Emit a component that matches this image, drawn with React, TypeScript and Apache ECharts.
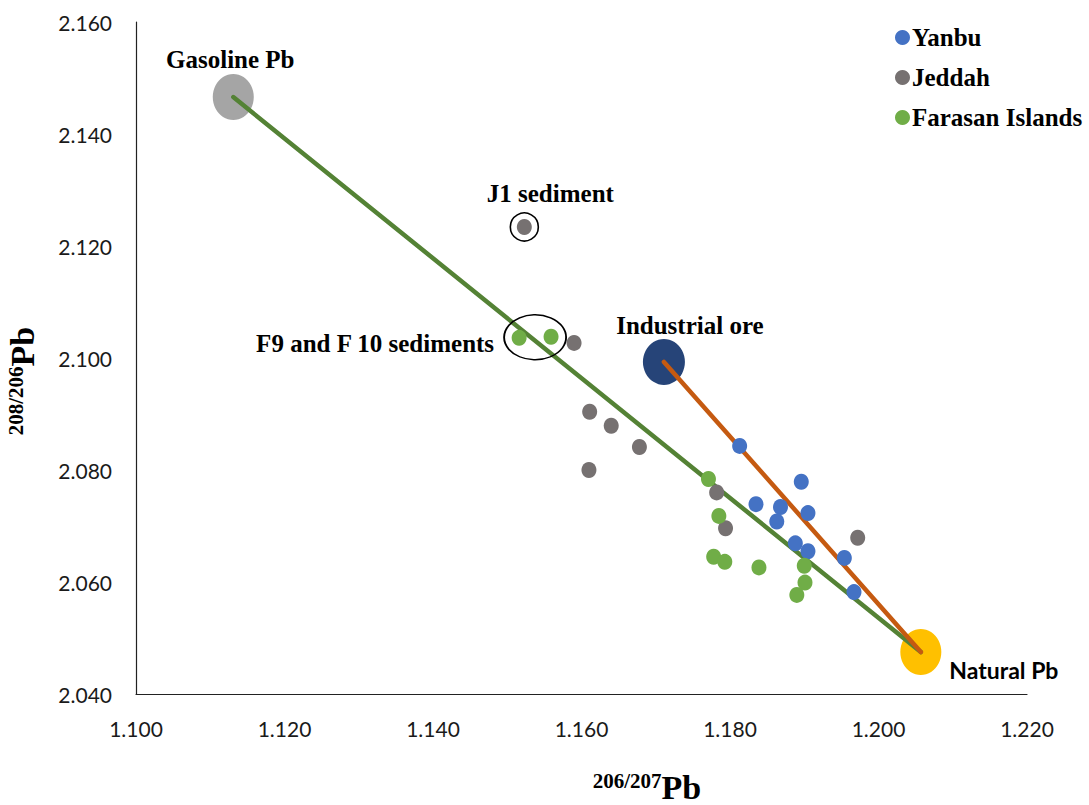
import React, { useEffect, useRef } from "react";
import * as echarts from "echarts";

const xTicks = { min: 1.1, max: 1.22, interval: 0.02 };
const yTicks = { min: 2.04, max: 2.16, interval: 0.02 };

const yanbu: number[][] = [
  [1.1813, 2.0843], [1.1896, 2.0779], [1.1835, 2.0739], [1.1868, 2.0734], [1.1905, 2.0723],
  [1.1863, 2.0708], [1.1888, 2.0669], [1.1905, 2.0655], [1.1954, 2.0643], [1.1967, 2.0582],
];
const jeddah: number[][] = [
  [1.1523, 2.1234], [1.159, 2.1027], [1.1611, 2.0904], [1.164, 2.0879], [1.1678, 2.0841],
  [1.161, 2.08], [1.1782, 2.076], [1.1794, 2.0696], [1.1972, 2.0679],
];
const farasan: number[][] = [
  [1.1516, 2.1036], [1.1559, 2.1038], [1.1771, 2.0784], [1.1785, 2.0718], [1.1778, 2.0645],
  [1.1793, 2.0636], [1.1839, 2.0626], [1.19, 2.0629], [1.1901, 2.0599], [1.189, 2.0577],
];

const gasoline = [1.1131, 2.1466];
const industrial = [1.1711, 2.0993];
const natural = [1.2057, 2.0475];

const serif = "'Liberation Serif', 'Times New Roman', serif";
const sans = "Lato, 'Noto Sans', sans-serif";

export default function App() {
  const ref = useRef<HTMLDivElement>(null);

  useEffect(() => {
    if (!ref.current) return;
    const chart = echarts.init(ref.current, null, { renderer: "svg" });

    const j1 = jeddah[0];
    const f9 = farasan[0];
    const f10 = farasan[1];
    const fCenter = [(f9[0] + f10[0]) / 2, (f9[1] + f10[1]) / 2];

    const annot = () => ({
      show: true,
      fontFamily: serif,
      fontWeight: "bold" as const,
      fontSize: 25,
      color: "#000",
      opacity: 1,
    });

    const titleRich = {
      sup: { fontFamily: serif, fontWeight: "bold", fontSize: 21, verticalAlign: "top", fill: "#000" },
      pb: { fontFamily: serif, fontWeight: "bold", fontSize: 34, fill: "#000" },
    };

    chart.setOption({
      animation: false,
      backgroundColor: "#fff",
      grid: { left: 136, right: 62, top: 22, bottom: 111, containLabel: false },
      xAxis: {
        type: "value",
        min: xTicks.min,
        max: xTicks.max,
        interval: xTicks.interval,
        axisLine: { show: true, onZero: false, lineStyle: { color: "#222", width: 1.2 } },
        axisTick: { show: false },
        splitLine: { show: false },
        axisLabel: {
          formatter: (v: number) => v.toFixed(3),
          fontFamily: sans,
          fontSize: 21,
          color: "#1a1a1a",
          margin: 24,
        },
      },
      yAxis: {
        type: "value",
        min: yTicks.min,
        max: yTicks.max,
        interval: yTicks.interval,
        axisLine: { show: true, onZero: false, lineStyle: { color: "#222", width: 1.2 } },
        axisTick: { show: false },
        splitLine: { show: false },
        axisLabel: {
          formatter: (v: number) => v.toFixed(3),
          fontFamily: sans,
          fontSize: 21,
          color: "#1a1a1a",
          margin: 24,
        },
      },
      legend: {
        data: ["Yanbu", "Jeddah", "Farasan Islands"],
        orient: "vertical",
        left: 890,
        top: 19,
        itemWidth: 15,
        itemHeight: 15,
        itemGap: 13,
        icon: "circle",
        textStyle: {
          fontFamily: serif,
          fontWeight: "bold",
          fontSize: 25,
          color: "#000",
          lineHeight: 27,
          padding: [0, 0, 0, -3],
        },
      },
      graphic: [
        {
          type: "text",
          x: 22,
          y: 381,
          rotation: Math.PI / 2,
          style: {
            text: "{sup|208/206}{pb|Pb}",
            align: "center",
            verticalAlign: "middle",
            fill: "#000",
            rich: titleRich,
          },
        },
        {
          type: "text",
          x: 647,
          y: 787,
          style: {
            text: "{sup|206/207}{pb|Pb}",
            align: "center",
            verticalAlign: "middle",
            fill: "#000",
            rich: titleRich,
          },
        },
      ],
      series: [
        {
          name: "Gasoline Pb",
          type: "scatter",
          z: 1,
          symbolSize: [41, 46],
          itemStyle: { color: "#A5A5A5", opacity: 1 },
          label: { ...annot(), position: "inside", offset: [-3, -38], formatter: "Gasoline Pb" },
          data: [gasoline],
        },
        {
          name: "Industrial ore",
          type: "scatter",
          z: 1,
          symbolSize: [42, 46],
          itemStyle: { color: "#264478", opacity: 1 },
          label: { ...annot(), position: "inside", offset: [26, -36], formatter: "Industrial ore" },
          data: [industrial],
        },
        {
          name: "Natural Pb",
          type: "scatter",
          z: 1,
          symbolSize: [41, 46],
          itemStyle: { color: "#FFC000", opacity: 1 },
          label: {
            show: true,
            fontFamily: sans,
            fontWeight: "bold",
            fontSize: 23,
            color: "#000",
            position: "inside",
            offset: [83, 18],
            formatter: "Natural Pb",
          },
          data: [natural],
        },
        {
          name: "gasLine",
          type: "line",
          z: 2,
          symbol: "none",
          silent: true,
          lineStyle: { color: "#548235", width: 4.5, cap: "round" },
          data: [gasoline, natural],
        },
        {
          name: "indLine",
          type: "line",
          z: 2,
          symbol: "none",
          silent: true,
          lineStyle: { color: "#C55A11", width: 4.5, cap: "round" },
          data: [industrial, natural],
        },
        {
          name: "Yanbu",
          type: "scatter",
          z: 3,
          symbolSize: [15, 16],
          itemStyle: { color: "#4472C4", opacity: 1 },
          data: yanbu,
        },
        {
          name: "Jeddah",
          type: "scatter",
          z: 3,
          symbolSize: [15, 16],
          itemStyle: { color: "#767171", opacity: 1 },
          data: jeddah,
        },
        {
          name: "Farasan Islands",
          type: "scatter",
          z: 3,
          symbolSize: [15, 16],
          itemStyle: { color: "#70AD47", opacity: 1 },
          data: farasan,
        },
        {
          name: "J1 ring",
          type: "scatter",
          z: 4,
          silent: true,
          symbolSize: 28,
          itemStyle: { color: "rgba(0,0,0,0)", borderColor: "#000", borderWidth: 1.6, opacity: 1 },
          label: { ...annot(), position: "inside", offset: [26, -33], formatter: "J1 sediment" },
          data: [j1],
        },
        {
          name: "F ring",
          type: "scatter",
          z: 4,
          silent: true,
          symbolSize: [62, 45],
          itemStyle: { color: "rgba(0,0,0,0)", borderColor: "#000", borderWidth: 1.6, opacity: 1 },
          label: { ...annot(), position: "inside", offset: [-160, 6], formatter: "F9 and F 10 sediments" },
          data: [fCenter],
        },
      ],
    });

    return () => chart.dispose();
  }, []);

  return (
    <div
      ref={ref}
      style={{ position: "absolute", left: 0, top: 0, width: 1089, height: 805 }}
    />
  );
}
